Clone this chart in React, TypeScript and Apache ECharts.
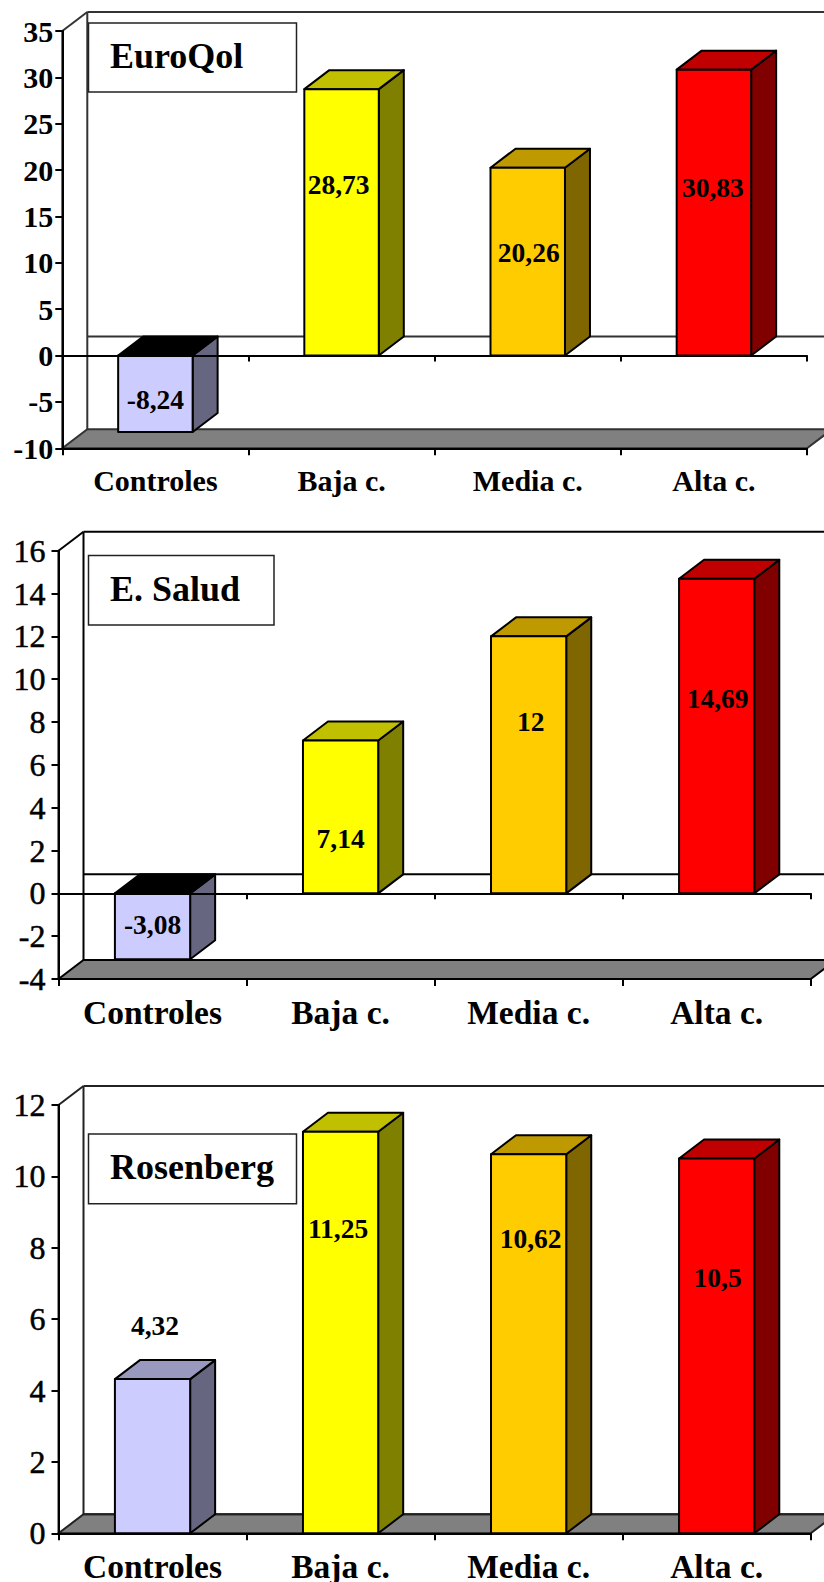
import React, { useEffect, useRef } from "react";
import * as echarts from "echarts";

const categories = ["Controles", "Baja c.", "Media c.", "Alta c."];

const euroQolValues = [-8.24, 28.73, 20.26, 30.83];
const saludValues = [-3.08, 7.14, 12, 14.69];
const rosenbergValues = [4.32, 11.25, 10.62, 10.5];

// Axis value at which each hand-placed value label is centred.
const euroQolLabelLevels = [-4.69, 18.5, 11.16, 18.07];
const saludLabelLevels = [-1.47, 2.55, 8.03, 9.12];
const rosenbergLabelLevels = [5.81, 8.53, 8.25, 7.16];

// Horizontal nudge of the value labels, in pixels, from the category centre.
const euroQolLabelShift = [0, -3, 1, -1];
const saludLabelShift = [0, 0, 2, 1];
const rosenbergLabelShift = [2.5, -2.5, 2, 1];

const FRONT = ["#CCCCFF", "#FFFF00", "#FFCC00", "#FF0000"];
const SIDE = ["#666680", "#808000", "#806600", "#800000"];
const TOP = ["#9999BF", "#C0C000", "#BF9900", "#C00000"];

const SERIF = "'Liberation Serif', 'Times New Roman', serif";
const DEPTH_X = 25;
const DEPTH_Y = 19;
const BLACK = "#000000";

type Panel = {
  title: string;
  values: number[];
  levels: number[];
  shifts: number[];
  min: number;
  max: number;
  interval: number;
  grid: { left: number; top: number; width: number; height: number };
  box: { x: number; y: number; width: number; height: number };
  titleBaseline: number;
  axisFont: { size: number; weight: string; margin: number; border: number };
  categoryFont: { size: number; margin: number };
  frameColor: string;
};

const panels: Panel[] = [
  {
    title: "EuroQol",
    values: euroQolValues,
    levels: euroQolLabelLevels,
    shifts: euroQolLabelShift,
    min: -10,
    max: 35,
    interval: 5,
    grid: { left: 62.3, top: 31, width: 744.7, height: 417.3 },
    box: { x: 88.5, y: 23, width: 208, height: 69 },
    titleBaseline: 74,
    axisFont: { size: 30, weight: "bold", margin: 9, border: 0 },
    categoryFont: { size: 30, margin: 17 },
    frameColor: "#333333",
  },
  {
    title: "E. Salud",
    values: saludValues,
    levels: saludLabelLevels,
    shifts: saludLabelShift,
    min: -4,
    max: 16,
    interval: 2,
    grid: { left: 58.5, top: 550.7, width: 752.2, height: 428.3 },
    box: { x: 88.5, y: 555.5, width: 185.5, height: 69.5 },
    titleBaseline: 607,
    axisFont: { size: 32, weight: "normal", margin: 13, border: 0.5 },
    categoryFont: { size: 33.5, margin: 16 },
    frameColor: BLACK,
  },
  {
    title: "Rosenberg",
    values: rosenbergValues,
    levels: rosenbergLabelLevels,
    shifts: rosenbergLabelShift,
    min: 0,
    max: 12,
    interval: 2,
    grid: { left: 58.5, top: 1105, width: 752.2, height: 428.3 },
    box: { x: 88.5, y: 1134, width: 208, height: 69.7 },
    titleBaseline: 1185,
    axisFont: { size: 32, weight: "normal", margin: 13, border: 0.5 },
    categoryFont: { size: 33.5, margin: 16 },
    frameColor: "#222222",
  },
];

const formatValue = (v: number) => String(v).replace(".", ",");

// Draws the back wall, side wall and floor of the 3D plot box.
function renderFrame(panel: Panel) {
  return (params: any, api: any) => {
    const cs = params.coordSys;
    const left = cs.x;
    const right = cs.x + cs.width;
    const top = cs.y;
    const bottom = cs.y + cs.height;
    const zeroY = api.coord([0, 0])[1];
    const style = { stroke: panel.frameColor, lineWidth: 2, fill: "none" };
    const segment = (x1: number, y1: number, x2: number, y2: number) => ({
      type: "line",
      shape: { x1, y1, x2, y2 },
      style,
    });
    return {
      type: "group",
      children: [
        {
          type: "polygon",
          shape: {
            points: [
              [left, bottom],
              [left + DEPTH_X, bottom - DEPTH_Y],
              [right + DEPTH_X, bottom - DEPTH_Y],
              [right, bottom],
            ],
          },
          style: { fill: "#808080", stroke: panel.frameColor, lineWidth: 2 },
        },
        segment(left, top, left + DEPTH_X, top - DEPTH_Y),
        segment(left + DEPTH_X, top - DEPTH_Y, right + DEPTH_X, top - DEPTH_Y),
        segment(left + DEPTH_X, top - DEPTH_Y, left + DEPTH_X, bottom - DEPTH_Y),
        segment(left, top, left, bottom),
        segment(left + DEPTH_X, zeroY - DEPTH_Y, right + DEPTH_X, zeroY - DEPTH_Y),
      ],
    };
  };
}

// Draws one prism for each category, with its value label on top.
function renderBar(panel: Panel) {
  return (params: any, api: any) => {
    const index = api.value(0);
    const value = api.value(1);
    const center = api.coord([index, 0])[0];
    const width = api.size([1, 0])[0] * 0.4;
    const x0 = center - width / 2;
    const x1 = center + width / 2;
    const zeroY = api.coord([index, 0])[1];
    const valueY = api.coord([index, value])[1];
    const upper = Math.min(zeroY, valueY);
    const lower = Math.max(zeroY, valueY);
    const outline = { stroke: BLACK, lineWidth: 2, lineJoin: "round" };
    const face = (points: number[][], fill: string) => ({
      type: "polygon",
      shape: { points },
      style: { fill, ...outline },
    });
    return {
      type: "group",
      children: [
        face(
          [
            [x1, upper],
            [x1 + DEPTH_X, upper - DEPTH_Y],
            [x1 + DEPTH_X, lower - DEPTH_Y],
            [x1, lower],
          ],
          SIDE[index],
        ),
        face(
          [
            [x0, upper],
            [x0 + DEPTH_X, upper - DEPTH_Y],
            [x1 + DEPTH_X, upper - DEPTH_Y],
            [x1, upper],
          ],
          value < 0 ? BLACK : TOP[index],
        ),
        face(
          [
            [x0, upper],
            [x1, upper],
            [x1, lower],
            [x0, lower],
          ],
          FRONT[index],
        ),
        {
          type: "text",
          z2: 10,
          style: {
            text: formatValue(value),
            x: center + panel.shifts[index],
            y: api.coord([index, panel.levels[index]])[1],
            align: "center",
            verticalAlign: "middle",
            fill: BLACK,
            font: `bold 27.5px ${SERIF}`,
          },
        },
      ],
    };
  };
}

function buildOption() {
  const grid = panels.map((p) => ({
    ...p.grid,
    containLabel: false,
    outerBoundsMode: "none",
  }));
  const xAxis: any[] = [];
  const yAxis: any[] = [];
  const series: any[] = [];
  const graphic: any[] = [];

  panels.forEach((p, i) => {
    const baseAxis = xAxis.length;
    xAxis.push({
      type: "category",
      gridIndex: i,
      data: categories,
      position: "bottom",
      z: 3,
      axisLine: { show: true, onZero: false, lineStyle: { color: BLACK, width: 2 } },
      axisTick: { show: true, length: 7, lineStyle: { color: BLACK, width: 2 } },
      splitLine: { show: false },
      axisLabel: {
        interval: 0,
        margin: p.categoryFont.margin,
        color: BLACK,
        fontFamily: SERIF,
        fontWeight: "bold",
        fontSize: p.categoryFont.size,
      },
    });
    xAxis.push({
      type: "category",
      gridIndex: i,
      data: categories,
      position: "top",
      z: 4,
      show: p.min < 0,
      axisLine: { show: true, onZero: true, lineStyle: { color: BLACK, width: 2 } },
      axisTick: { show: true, inside: true, length: 6, lineStyle: { color: BLACK, width: 2 } },
      axisLabel: { show: false },
      splitLine: { show: false },
    });
    yAxis.push({
      type: "value",
      gridIndex: i,
      min: p.min,
      max: p.max,
      interval: p.interval,
      z: 3,
      axisLine: { show: true, onZero: false, lineStyle: { color: BLACK, width: 2 } },
      axisTick: { show: true, length: 7, lineStyle: { color: BLACK, width: 2 } },
      splitLine: { show: false },
      axisLabel: {
        margin: p.axisFont.margin,
        color: BLACK,
        fontFamily: SERIF,
        fontWeight: p.axisFont.weight,
        fontSize: p.axisFont.size,
        textBorderColor: BLACK,
        textBorderWidth: p.axisFont.border,
      },
    });
    series.push({
      type: "custom",
      xAxisIndex: baseAxis,
      yAxisIndex: i,
      z: 1,
      silent: true,
      renderItem: renderFrame(p),
      data: [[0, 0]],
    });
    series.push({
      type: "custom",
      xAxisIndex: baseAxis,
      yAxisIndex: i,
      z: 2,
      silent: true,
      renderItem: renderBar(p),
      data: p.values.map((v, idx) => [idx, v]),
    });
    graphic.push({
      type: "rect",
      z: 20,
      shape: p.box,
      style: { fill: "#FFFFFF", stroke: "#222222", lineWidth: 1.5 },
    });
    graphic.push({
      type: "text",
      z: 21,
      x: 110,
      y: p.titleBaseline,
      style: {
        text: p.title,
        fill: BLACK,
        font: `bold 36px ${SERIF}`,
        verticalAlign: "bottom",
      },
    });
  });

  return {
    animation: false,
    backgroundColor: "#FFFFFF",
    grid,
    xAxis,
    yAxis,
    series,
    graphic,
  };
}

export default function App() {
  const ref = useRef<HTMLDivElement>(null);
  useEffect(() => {
    document.body.style.margin = "0";
    const chart = echarts.init(ref.current!, undefined, { renderer: "svg" });
    chart.setOption(buildOption() as any);
    return () => chart.dispose();
  }, []);
  return <div ref={ref} style={{ width: 824, height: 1582 }} />;
}
